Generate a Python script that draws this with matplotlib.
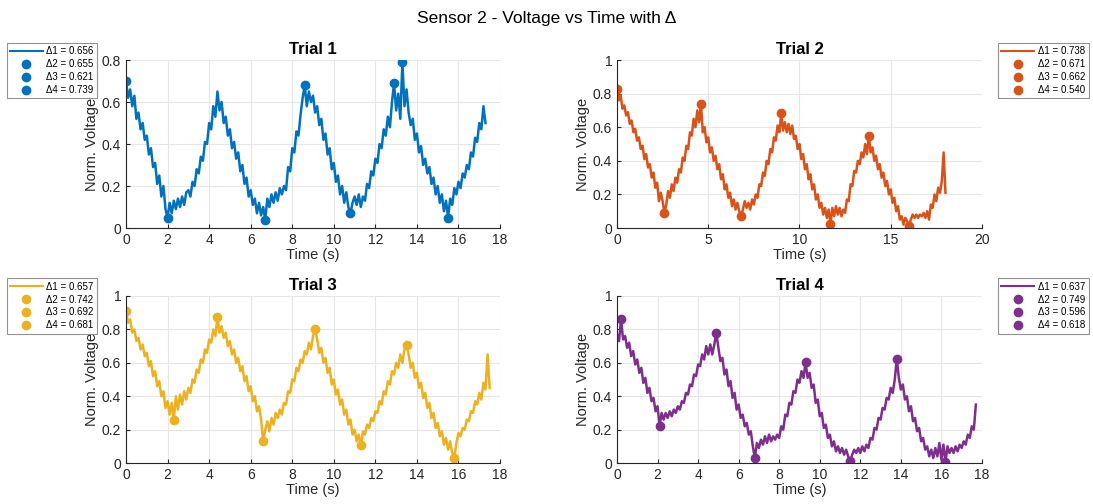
import numpy as np
import matplotlib
matplotlib.use("Agg")
import matplotlib.pyplot as plt
from matplotlib.ticker import FuncFormatter

plt.rcParams['font.family'] = ['Liberation Sans', 'DejaVu Sans']

# sample spacing of the read-off traces (s)
dt = 0.1

trial1 = [0.70, 0.62, 0.66, 0.58, 0.63, 0.52, 0.55, 0.47, 0.50, 0.42,
          0.44, 0.35, 0.38, 0.29, 0.31, 0.21, 0.25, 0.15, 0.20, 0.09,
          0.05, 0.12, 0.07, 0.13, 0.09, 0.14, 0.10, 0.15, 0.11, 0.17,
          0.18, 0.15, 0.22, 0.20, 0.28, 0.26, 0.34, 0.32, 0.41, 0.40,
          0.50, 0.47, 0.58, 0.53, 0.65, 0.56, 0.60, 0.50, 0.53, 0.44,
          0.47, 0.38, 0.41, 0.33, 0.36, 0.27, 0.30, 0.21, 0.24, 0.15,
          0.18, 0.11, 0.14, 0.07, 0.12, 0.06, 0.10, 0.04, 0.14, 0.10,
          0.16, 0.12, 0.17, 0.13, 0.19, 0.16, 0.20, 0.18, 0.29, 0.27,
          0.38, 0.36, 0.46, 0.44, 0.54, 0.62, 0.68, 0.58, 0.65, 0.60,
          0.63, 0.55, 0.58, 0.49, 0.52, 0.42, 0.45, 0.35, 0.38, 0.28,
          0.31, 0.22, 0.25, 0.16, 0.20, 0.12, 0.17, 0.10, 0.07, 0.12,
          0.15, 0.11, 0.16, 0.10, 0.15, 0.13, 0.21, 0.19, 0.27, 0.25,
          0.33, 0.31, 0.40, 0.38, 0.47, 0.44, 0.53, 0.48, 0.60, 0.69,
          0.56, 0.64, 0.52, 0.79, 0.58, 0.66, 0.55, 0.49, 0.52, 0.42,
          0.45, 0.36, 0.39, 0.30, 0.33, 0.26, 0.29, 0.21, 0.24, 0.16,
          0.20, 0.12, 0.16, 0.08, 0.13, 0.05, 0.14, 0.11, 0.19, 0.16,
          0.22, 0.19, 0.26, 0.24, 0.30, 0.28, 0.36, 0.34, 0.43, 0.41,
          0.50, 0.47, 0.58, 0.50]

trial2 = [0.83, 0.76, 0.79, 0.71, 0.73, 0.67, 0.69, 0.62, 0.64, 0.57,
          0.59, 0.52, 0.54, 0.47, 0.49, 0.41, 0.44, 0.36, 0.38, 0.30,
          0.33, 0.24, 0.27, 0.16, 0.21, 0.16, 0.09, 0.14, 0.22, 0.18,
          0.26, 0.22, 0.30, 0.27, 0.35, 0.33, 0.42, 0.40, 0.49, 0.47,
          0.57, 0.55, 0.65, 0.60, 0.70, 0.63, 0.74, 0.57, 0.60, 0.51,
          0.54, 0.45, 0.48, 0.40, 0.43, 0.35, 0.38, 0.29, 0.32, 0.23,
          0.26, 0.18, 0.21, 0.13, 0.17, 0.11, 0.15, 0.10, 0.07, 0.11,
          0.16, 0.12, 0.15, 0.11, 0.17, 0.14, 0.20, 0.18, 0.26, 0.25,
          0.33, 0.31, 0.40, 0.38, 0.47, 0.45, 0.54, 0.52, 0.61, 0.57,
          0.685, 0.58, 0.63, 0.57, 0.62, 0.56, 0.61, 0.53, 0.55, 0.47,
          0.50, 0.41, 0.44, 0.35, 0.38, 0.29, 0.32, 0.23, 0.26, 0.17,
          0.20, 0.12, 0.15, 0.08, 0.12, 0.06, 0.11, 0.025, 0.12, 0.07,
          0.13, 0.08, 0.12, 0.07, 0.11, 0.09, 0.17, 0.16, 0.26, 0.25,
          0.34, 0.33, 0.40, 0.38, 0.45, 0.42, 0.50, 0.44, 0.55, 0.45,
          0.48, 0.40, 0.43, 0.35, 0.38, 0.30, 0.33, 0.25, 0.28, 0.20,
          0.23, 0.15, 0.18, 0.10, 0.13, 0.05, 0.07, 0.02, 0.06, 0.04,
          0.01, 0.05, 0.08, 0.06, 0.08, 0.06, 0.08, 0.07, 0.09, 0.06,
          0.10, 0.05, 0.14, 0.12, 0.20, 0.16, 0.24, 0.21, 0.28, 0.45,
          0.21]

trial3 = [0.91, 0.84, 0.86, 0.78, 0.80, 0.73, 0.75, 0.68, 0.71, 0.64,
          0.66, 0.58, 0.61, 0.52, 0.55, 0.46, 0.49, 0.40, 0.43, 0.33,
          0.37, 0.29, 0.36, 0.26, 0.40, 0.32, 0.41, 0.35, 0.43, 0.38,
          0.45, 0.42, 0.50, 0.48, 0.56, 0.54, 0.62, 0.60, 0.68, 0.66,
          0.74, 0.72, 0.80, 0.76, 0.875, 0.78, 0.82, 0.75, 0.78, 0.70,
          0.73, 0.65, 0.68, 0.60, 0.63, 0.55, 0.58, 0.49, 0.52, 0.43,
          0.46, 0.37, 0.40, 0.31, 0.34, 0.26, 0.13, 0.20, 0.25, 0.19,
          0.27, 0.23, 0.30, 0.27, 0.32, 0.29, 0.36, 0.35, 0.43, 0.42,
          0.50, 0.49, 0.57, 0.55, 0.62, 0.60, 0.67, 0.65, 0.72, 0.68,
          0.76, 0.80, 0.74, 0.66, 0.69, 0.60, 0.63, 0.54, 0.57, 0.47,
          0.50, 0.41, 0.44, 0.35, 0.38, 0.29, 0.32, 0.23, 0.26, 0.17,
          0.20, 0.13, 0.17, 0.105, 0.19, 0.17, 0.23, 0.21, 0.27, 0.25,
          0.31, 0.30, 0.37, 0.35, 0.43, 0.41, 0.49, 0.47, 0.55, 0.53,
          0.60, 0.57, 0.65, 0.60, 0.68, 0.705, 0.65, 0.57, 0.60, 0.51,
          0.54, 0.45, 0.48, 0.39, 0.42, 0.33, 0.36, 0.27, 0.30, 0.21,
          0.24, 0.16, 0.19, 0.11, 0.15, 0.08, 0.13, 0.06, 0.03, 0.12,
          0.18, 0.16, 0.21, 0.20, 0.26, 0.25, 0.31, 0.30, 0.37, 0.35,
          0.42, 0.38, 0.48, 0.44, 0.65, 0.45]

trial4 = [0.77, 0.73, 0.86, 0.74, 0.76, 0.69, 0.72, 0.64, 0.67, 0.59,
          0.62, 0.54, 0.57, 0.48, 0.51, 0.42, 0.45, 0.37, 0.39, 0.31,
          0.34, 0.22, 0.30, 0.26, 0.30, 0.27, 0.31, 0.28, 0.32, 0.30,
          0.34, 0.32, 0.37, 0.36, 0.42, 0.41, 0.47, 0.46, 0.53, 0.52,
          0.59, 0.58, 0.65, 0.62, 0.70, 0.65, 0.71, 0.65, 0.71, 0.78,
          0.69, 0.61, 0.63, 0.53, 0.56, 0.46, 0.49, 0.39, 0.42, 0.32,
          0.35, 0.27, 0.29, 0.22, 0.24, 0.17, 0.19, 0.10, 0.03, 0.12,
          0.09, 0.14, 0.11, 0.16, 0.12, 0.17, 0.13, 0.16, 0.14, 0.17,
          0.15, 0.22, 0.20, 0.29, 0.28, 0.36, 0.35, 0.43, 0.42, 0.50,
          0.48, 0.55, 0.51, 0.605, 0.51, 0.54, 0.45, 0.47, 0.36, 0.38,
          0.28, 0.30, 0.21, 0.23, 0.15, 0.17, 0.10, 0.13, 0.07, 0.10,
          0.06, 0.09, 0.05, 0.08, 0.04, 0.01, 0.05, 0.08, 0.06, 0.09,
          0.06, 0.10, 0.07, 0.11, 0.09, 0.15, 0.14, 0.21, 0.20, 0.27,
          0.26, 0.33, 0.32, 0.39, 0.38, 0.45, 0.42, 0.50, 0.625, 0.51,
          0.44, 0.47, 0.38, 0.40, 0.31, 0.34, 0.25, 0.27, 0.19, 0.21,
          0.13, 0.15, 0.08, 0.10, 0.04, 0.08, 0.03, 0.09, 0.04, 0.12,
          0.02, 0.11, 0.005, 0.10, 0.06, 0.09, 0.06, 0.10, 0.07, 0.11,
          0.09, 0.13, 0.11, 0.17, 0.15, 0.22, 0.20, 0.35]

# peak / trough pairs per trial (time, value)
peak_t = [[0.0, 8.6, 12.9, 13.3], [0.0, 4.6, 9.0, 13.8],
          [0.0, 4.4, 9.1, 13.5], [0.2, 4.9, 9.3, 13.8]]
peak_v = [[0.70, 0.68, 0.69, 0.79], [0.83, 0.74, 0.685, 0.55],
          [0.91, 0.875, 0.80, 0.705], [0.86, 0.78, 0.605, 0.625]]
trough_t = [[2.0, 6.7, 10.8, 15.5], [2.6, 6.8, 11.7, 16.0],
            [2.3, 6.6, 11.3, 15.8], [2.1, 6.8, 11.5, 16.2]]
trough_v = [[0.05, 0.04, 0.07, 0.05], [0.09, 0.07, 0.025, 0.01],
            [0.26, 0.13, 0.105, 0.03], [0.22, 0.03, 0.01, 0.005]]
deltas = [[0.656, 0.655, 0.621, 0.739], [0.738, 0.671, 0.662, 0.540],
          [0.657, 0.742, 0.692, 0.681], [0.637, 0.749, 0.596, 0.618]]

signals = [trial1, trial2, trial3, trial4]
titles = ['Trial 1', 'Trial 2', 'Trial 3', 'Trial 4']
colors = ['#0072BD', '#D95319', '#EDB120', '#7E2F8E']
xlims = [18, 20, 18, 18]
xsteps = [2, 5, 2, 2]
ylims = [0.8, 1, 1, 1]

axes_pos = [[0.1153, 0.5476, 0.3422, 0.3333], [0.5645, 0.5476, 0.3339, 0.3333],
            [0.1153, 0.0813, 0.3422, 0.3314], [0.5645, 0.0813, 0.3339, 0.3314]]
legend_loc = [(0.006, 0.915), (0.996, 0.915), (0.006, 0.448), (0.996, 0.448)]
legend_anchor = ['upper left', 'upper right', 'upper left', 'upper right']

fig = plt.figure(figsize=(10.93, 5.04), dpi=100)
fig.suptitle('Sensor 2 - Voltage vs Time with \u0394', fontsize=12.5, y=0.978)

fmt = FuncFormatter(lambda v, p: '%g' % round(v, 2))
dark = '#262626'

for i in range(4):
    ax = fig.add_axes(axes_pos[i])
    v = np.array(signals[i])
    t = np.arange(len(v)) * dt
    handles = []
    h, = ax.plot(t, v, color=colors[i], lw=1.8)
    handles.append(h)
    for k in range(4):
        h, = ax.plot([peak_t[i][k], trough_t[i][k]], [peak_v[i][k], trough_v[i][k]],
                     'o', color=colors[i], ms=6, ls='none')
        handles.append(h)
    labels = ['\u0394%d = %.3f' % (k + 1, deltas[i][k]) for k in range(4)]
    leg = fig.legend(handles[:4], labels, loc=legend_anchor[i],
                     bbox_to_anchor=legend_loc[i], fontsize=7, frameon=True,
                     fancybox=False, edgecolor='#777777', handlelength=3.4,
                     borderpad=0.35, labelspacing=0.3, handletextpad=0.35,
                     borderaxespad=0)
    leg.get_frame().set_linewidth(0.8)
    leg.get_lines()[0].set_linewidth(1.5)

    ax.set_xlim(0, xlims[i])
    ax.set_ylim(0, ylims[i])
    ax.set_xticks(np.arange(0, xlims[i] + 0.01, xsteps[i]))
    ax.set_yticks(np.arange(0, ylims[i] + 0.01, 0.2))
    ax.xaxis.set_major_formatter(fmt)
    ax.yaxis.set_major_formatter(fmt)
    ax.grid(True, color='#e6e6e6', lw=0.8)
    ax.set_axisbelow(True)
    for s in ['top', 'right']:
        ax.spines[s].set_visible(False)
    for s in ['left', 'bottom']:
        ax.spines[s].set_color(dark)
        ax.spines[s].set_linewidth(0.8)
    ax.tick_params(direction='in', length=3, labelsize=10, colors=dark, width=0.8)
    ax.set_title(titles[i], fontsize=12, fontweight='bold', pad=4)
    ax.set_xlabel('Time (s)', fontsize=10.5, color=dark, labelpad=1)
    ax.set_ylabel('Norm. Voltage', fontsize=10.5, color=dark, labelpad=2)

fig.savefig('out.png', dpi=100)
